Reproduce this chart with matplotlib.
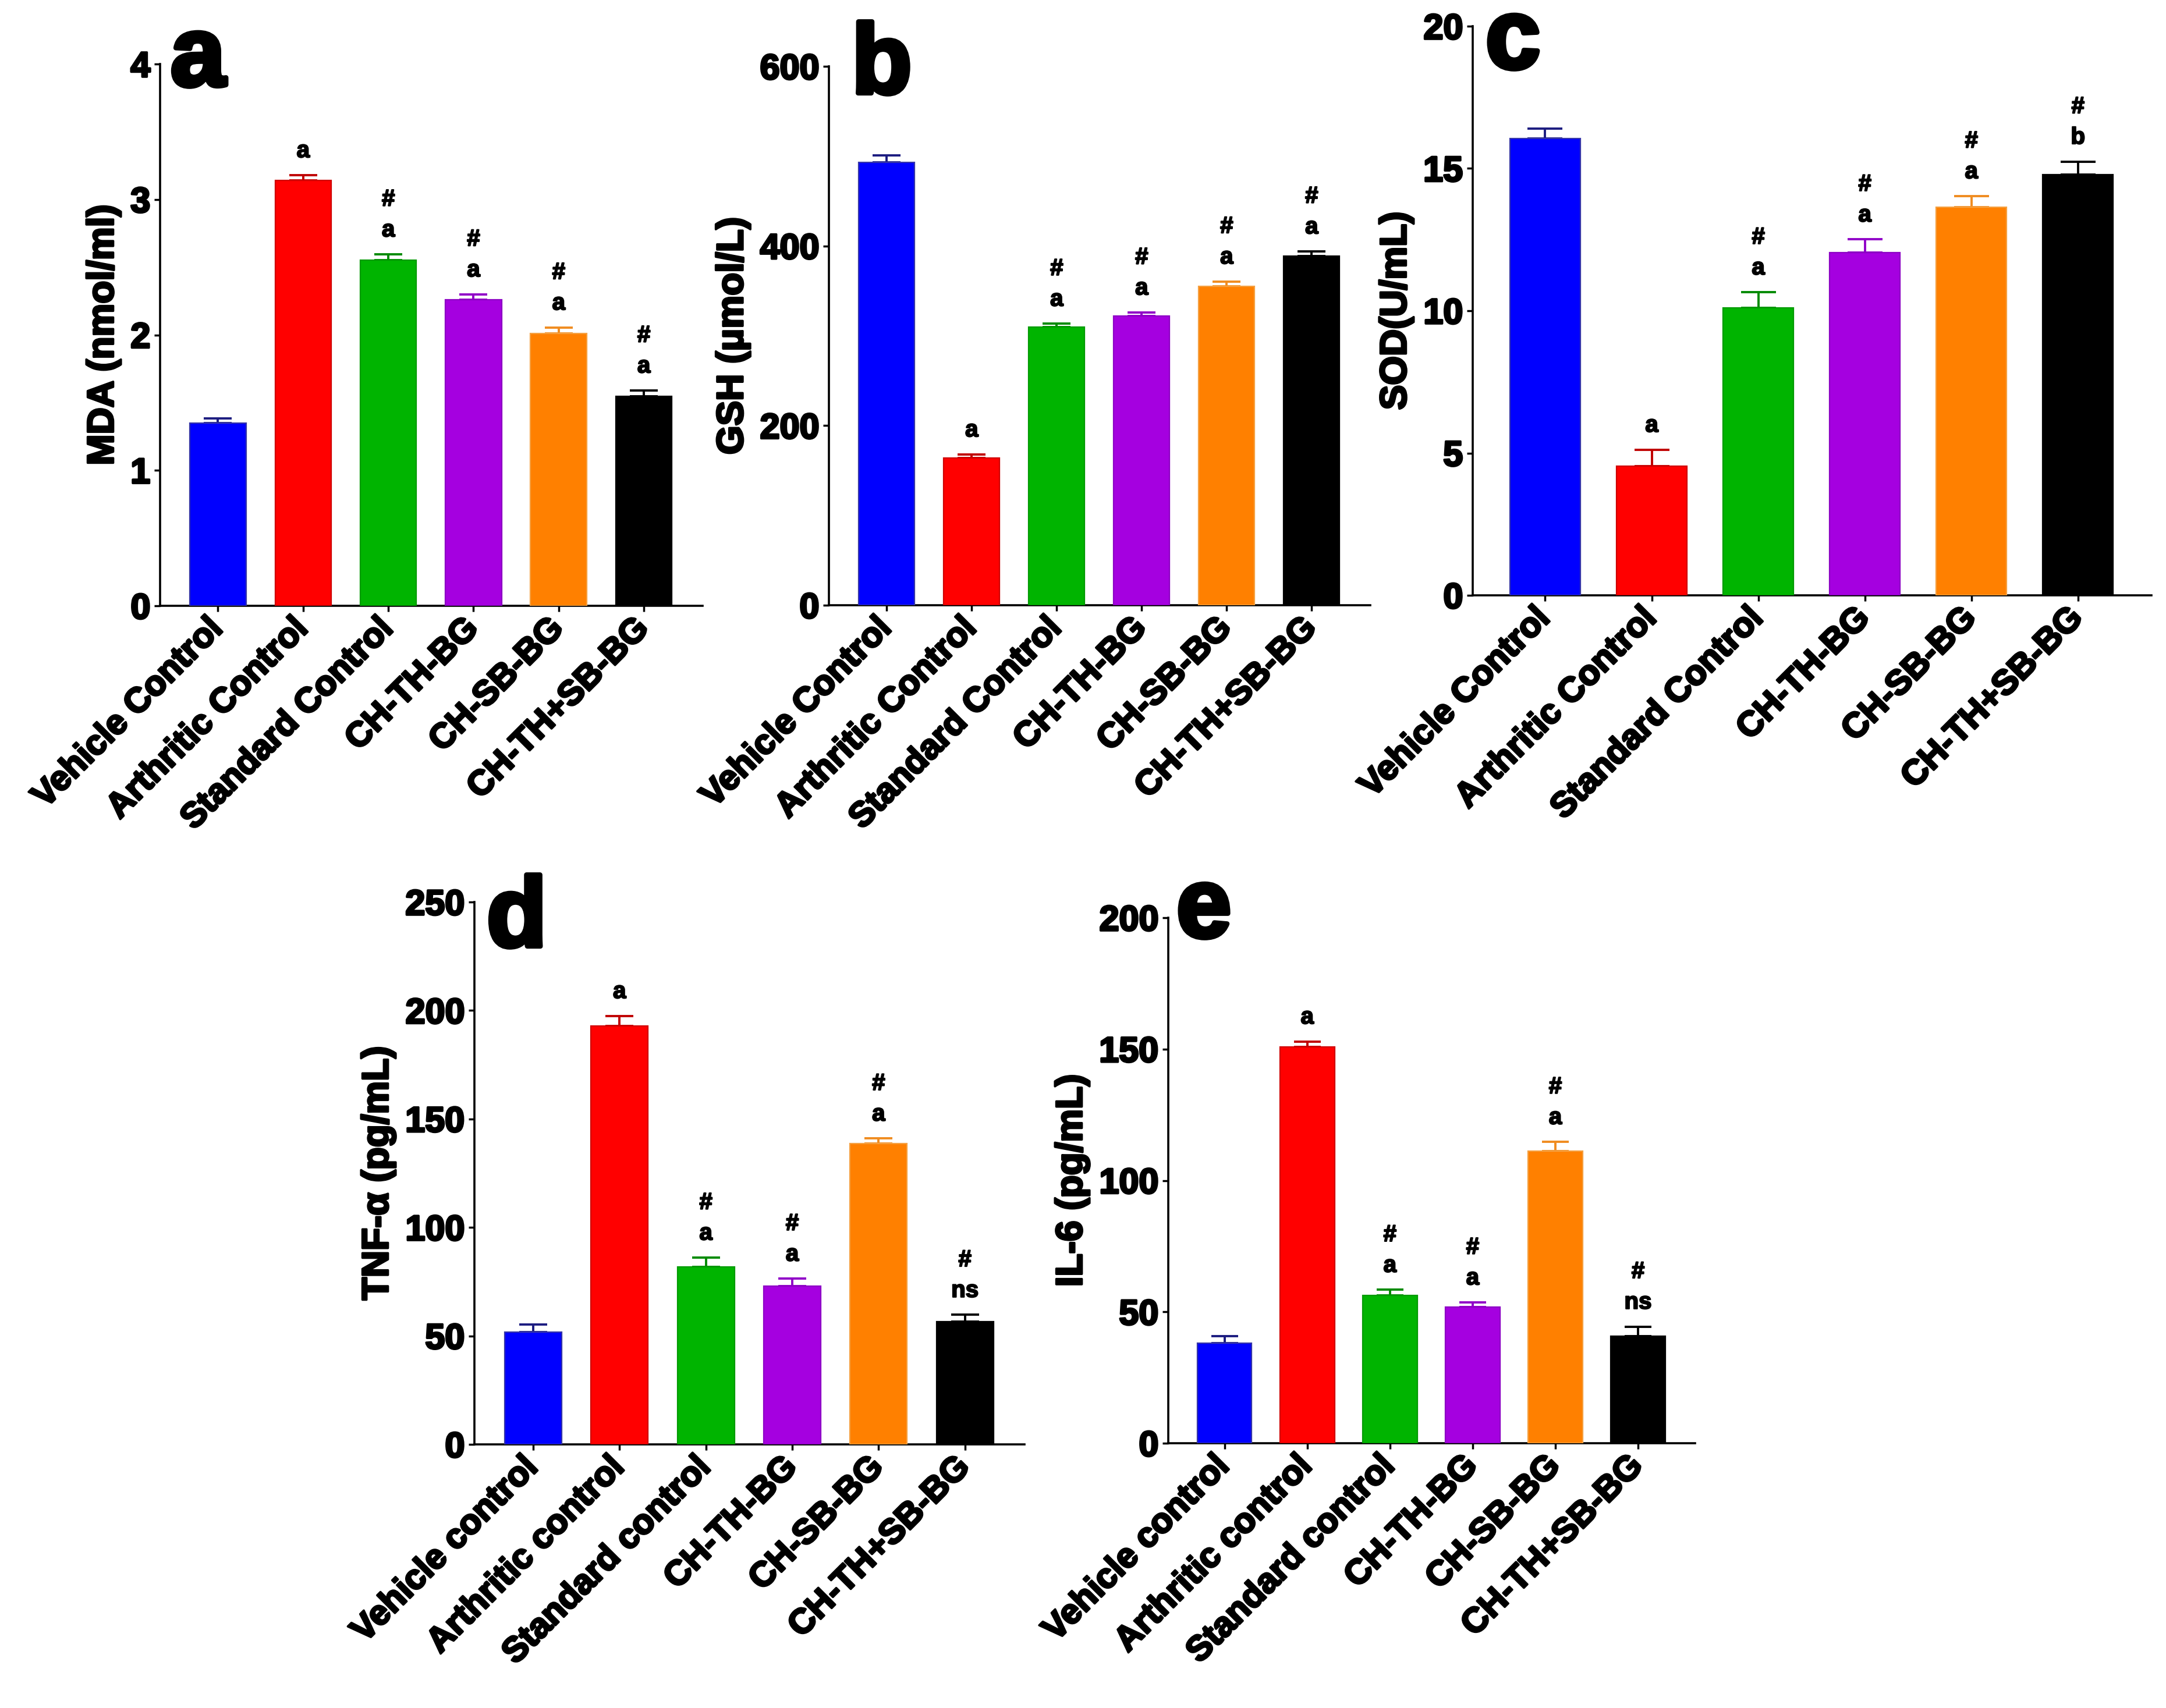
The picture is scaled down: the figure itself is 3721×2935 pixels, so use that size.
import matplotlib

matplotlib.use("Agg")
import matplotlib.pyplot as plt
import matplotlib.patheffects as pe
import numpy as np

plt.rcParams["font.family"] = ["Liberation Sans", "DejaVu Sans"]
plt.rcParams["font.weight"] = "bold"

FIG_W, FIG_H, DPI = 3721, 2935, 100

# ---- data ----
groups_upper = ["Vehicle Control", "Arthritic Control", "Standard Control",
                "CH-TH-BG", "CH-SB-BG", "CH-TH+SB-BG"]
groups_lower = ["Vehicle control", "Arthritic control", "Standard control",
                "CH-TH-BG", "CH-SB-BG", "CH-TH+SB-BG"]

mda_mean = [1.35, 3.14, 2.55, 2.26, 2.01, 1.545]
mda_err = [0.035, 0.04, 0.045, 0.04, 0.045, 0.045]
gsh_mean = [493, 164, 310, 322, 355, 389]
gsh_err = [8, 4, 3.5, 4, 5.5, 5]
sod_mean = [16.06, 4.55, 10.1, 12.04, 13.63, 14.79]
sod_err = [0.34, 0.57, 0.55, 0.47, 0.4, 0.45]
tnf_mean = [51.7, 192.8, 81.8, 72.9, 138.8, 56.7]
tnf_err = [3.5, 4.7, 4.3, 3.5, 2.2, 3.0]
il6_mean = [38.2, 150.9, 56.3, 51.8, 111.2, 40.7]
il6_err = [2.5, 2.0, 2.1, 1.8, 3.5, 3.7]

# significance marks: first row sits just above the error bar, "#" above that
sig_abc_low = ["", "a", "a", "a", "a", "a"]
sig_c_low = ["", "a", "a", "a", "a", "b"]
sig_de_low = ["", "a", "a", "a", "a", "ns"]
sig_high = ["", "", "#", "#", "#", "#"]

mda_ticks = [0, 1, 2, 3, 4]
gsh_ticks = [0, 200, 400, 600]
sod_ticks = [0, 5, 10, 15, 20]
tnf_ticks = [0, 50, 100, 150, 200, 250]
il6_ticks = [0, 50, 100, 150, 200]

bar_colors = ["#0000ff", "#ff0000", "#00b400", "#a500e0", "#ff8000", "#000000"]
edge_colors = ["#3434a8", "#d00000", "#009a00", "#8c00c4", "#f5a040", "#000000"]
err_colors = ["#1c1c80", "#c00000", "#008a00", "#9000c8", "#f08c20", "#000000"]

BAR_W = 0.66
XLIM = (-0.68, 5.69)
HEAVY = [pe.withStroke(linewidth=2.6, foreground="black")]


def _panel(fig, box, letter, letter_xy, ylabel, ticks, means, errs, low, high, cats):
    left, top, right, bottom = box
    ax = fig.add_axes([left / FIG_W, 1 - bottom / FIG_H,
                       (right - left) / FIG_W, (bottom - top) / FIG_H])
    x = np.arange(len(means))
    bar_px = BAR_W / (XLIM[1] - XLIM[0]) * (right - left)
    cap_pt = 0.25 * bar_px * 72 / DPI

    ax.bar(x, means, width=BAR_W, color=bar_colors, edgecolor=edge_colors,
           linewidth=1.6, zorder=3)
    for xi, m, e, c in zip(x, means, errs, err_colors):
        ax.errorbar(xi, m, yerr=[[0], [e]], fmt="none", ecolor=c,
                    elinewidth=2.8, capsize=cap_pt, capthick=2.8, zorder=2)

    for xi, m, e, t1, t2 in zip(x, means, errs, low, high):
        if t1:
            ax.annotate(t1, xy=(xi, m + e), xytext=(0, 30), textcoords="offset points",
                        ha="center", va="center", fontsize=29, fontweight="bold",
                        path_effects=[pe.withStroke(linewidth=1.6, foreground="black")])
        if t2:
            ax.annotate(t2, xy=(xi, m + e), xytext=(0, 68), textcoords="offset points",
                        ha="center", va="center", fontsize=29, fontweight="bold",
                        path_effects=[pe.withStroke(linewidth=1.6, foreground="black")])

    ax.set_xlim(*XLIM)
    ax.set_ylim(ticks[0], ticks[-1])
    ax.set_yticks(ticks)
    ax.set_xticks(x)
    ax.set_xticklabels(cats, rotation=45, ha="right", va="center",
                       rotation_mode="anchor", fontsize=43, fontweight="bold")
    ax.tick_params(axis="y", labelsize=44, width=2.5, length=7, pad=5)
    ax.tick_params(axis="x", width=2.5, length=7, pad=15)
    for lab in ax.get_yticklabels() + ax.get_xticklabels():
        lab.set_fontweight("bold")
        lab.set_path_effects(HEAVY)
    for side in ("top", "right"):
        ax.spines[side].set_visible(False)
    for side in ("left", "bottom"):
        ax.spines[side].set_linewidth(2.6)
    ax.set_ylabel(ylabel, fontsize=46, fontweight="bold", labelpad=12,
                  path_effects=HEAVY)

    fig.text(letter_xy[0] / FIG_W, 1 - letter_xy[1] / FIG_H, letter,
             fontsize=122, fontweight="bold", ha="left", va="baseline",
             path_effects=[pe.withStroke(linewidth=6, foreground="black")])
    return ax


fig = plt.figure(figsize=(FIG_W / DPI, FIG_H / DPI), dpi=DPI)

_panel(fig, (275, 110, 1207, 1041), "a", (293, 147), "MDA (nmol/ml)",
       mda_ticks, mda_mean, mda_err, sig_abc_low, sig_high, groups_upper)
_panel(fig, (1424, 114, 2354, 1040), "b", (1463, 160), "GSH (\u03bcmol/L)",
       gsh_ticks, gsh_mean, gsh_err, sig_abc_low, sig_high, groups_upper)
_panel(fig, (2530, 45, 3696, 1023), "c", (2552, 117), "SOD(U/mL)",
       sod_ticks, sod_mean, sod_err, sig_c_low, sig_high, groups_upper)
_panel(fig, (815, 1550, 1760, 2482), "d", (836, 1626), "TNF-\u03b1 (pg/mL)",
       tnf_ticks, tnf_mean, tnf_err, sig_de_low, sig_high, groups_lower)
_panel(fig, (2007, 1577, 2912, 2480), "e", (2021, 1610), "IL-6 (pg/mL)",
       il6_ticks, il6_mean, il6_err, sig_de_low, sig_high, groups_lower)

fig.savefig("out.png", dpi=DPI, facecolor="white")
plt.close(fig)
